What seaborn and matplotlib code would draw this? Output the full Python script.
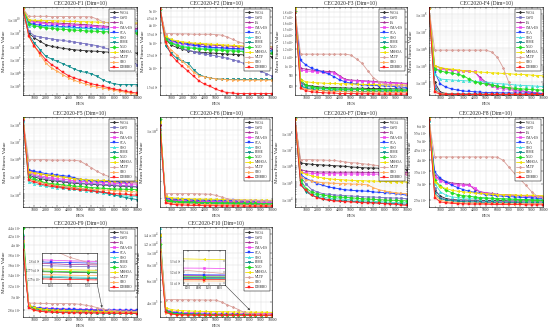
import numpy as np
import pandas as pd
import seaborn as sns
import matplotlib.pyplot as plt
from matplotlib.lines import Line2D
from matplotlib.ticker import FixedLocator, FixedFormatter, LogLocator, NullFormatter, MultipleLocator

algs = ['WOA', 'GWO', 'FA', 'CMA-ES', 'SCA', 'SHO', 'RIME', 'NGO', 'MSHOA', 'MLTP', 'SBO', 'DMBBO']
colors = ['#333333', '#7570c0', '#a02890', '#ee44ee', '#1f3fff', '#3fe0d8', '#0a8a8a',
          '#22dd22', '#f0e000', '#d9a09a', '#ffaa55', '#ff2020']
markers = ['P', 'o', '*', 'X', 's', '^', 'v', 'D', '<', 'P', '>', 's']
fes = list(range(0, 10001, 500))

# rows follow the order of algs
f1_vals = [
    [6.0e10, 8.9e8, 3.8e8, 2.1e8, 1.2e8, 8.9e7, 7.5e7, 6.3e7, 5.6e7, 5.0e7, 4.5e7, 4.2e7, 4.0e7, 3.8e7, 3.5e7, 3.3e7, 3.3e7, 3.2e7, 3.2e7, 3.0e7, 2.8e7],
    [5.5e10, 1.2e9, 5.6e8, 4.5e8, 3.8e8, 3.2e8, 2.8e8, 2.5e8, 2.1e8, 1.9e8, 1.6e8, 1.4e8, 1.2e8, 1.0e8, 7.5e7, 5.6e7, 3.8e7, 2.4e7, 1.4e7, 7.5e6, 3.8e6],
    [5.8e10, 7.9e9, 6.7e9, 6.0e9, 5.6e9, 5.3e9, 5.0e9, 4.7e9, 4.5e9, 4.2e9, 4.0e9, 3.8e9, 3.5e9, 3.2e9, 3.0e9, 2.8e9, 2.6e9, 2.4e9, 2.3e9, 2.1e9, 2.0e9],
    [6.2e10, 6.7e9, 5.6e9, 5.0e9, 4.5e9, 4.2e9, 4.0e9, 3.8e9, 3.5e9, 3.3e9, 3.2e9, 3.0e9, 2.8e9, 2.7e9, 2.4e9, 2.2e9, 2.0e9, 1.9e9, 1.8e9, 1.7e9, 1.6e9],
    [6.5e10, 5.0e9, 4.0e9, 3.5e9, 3.2e9, 3.0e9, 2.8e9, 2.7e9, 2.5e9, 2.4e9, 2.2e9, 2.1e9, 2.0e9, 1.9e9, 1.8e9, 1.7e9, 1.6e9, 1.5e9, 1.4e9, 1.3e9, 1.26e9],
    [5.2e10, 3.2e9, 2.8e9, 2.8e9, 2.8e9, 2.7e9, 2.5e9, 2.4e9, 2.2e9, 2.1e9, 2.0e9, 1.9e9, 1.8e9, 1.8e9, 1.7e9, 1.7e9, 1.6e9, 1.6e9, 1.5e9, 1.5e9, 1.4e9],
    [5.7e10, 6.7e8, 1.6e8, 5.0e7, 1.6e7, 1.0e7, 6.7e6, 4.5e6, 2.8e6, 1.8e6, 1.2e6, 1.0e6, 7.9e5, 5.0e5, 2.8e5, 1.8e5, 1.4e5, 1.2e5, 1.2e5, 1.2e5, 1.2e5],
    [6.8e10, 4.5e9, 3.2e9, 2.7e9, 2.2e9, 2.0e9, 1.8e9, 1.7e9, 1.6e9, 1.5e9, 1.4e9, 1.3e9, 1.26e9, 1.2e9, 1.12e9, 1.12e9, 1.06e9, 1.0e9, 1.0e9, 9.4e8, 8.9e8],
    [6.3e10, 8.9e9, 7.9e9, 7.9e9, 7.5e9, 7.5e9, 7.1e9, 7.1e9, 6.7e9, 6.7e9, 6.3e9, 6.3e9, 6.0e9, 6.0e9, 5.6e9, 5.6e9, 5.3e9, 5.3e9, 5.0e9, 5.0e9, 5.0e9],
    [6.0e10, 1.6e10, 1.6e10, 1.6e10, 1.6e10, 1.55e10, 1.55e10, 1.55e10, 1.55e10, 1.5e10, 1.5e10, 1.5e10, 1.45e10, 1.0e10, 6.3e9, 5.0e9, 4.5e9, 4.5e9, 4.2e9, 4.2e9, 4.0e9],
    [6.0e10, 5.0e8, 8.9e7, 2.1e7, 5.0e6, 2.1e6, 1.2e6, 6.7e5, 3.8e5, 2.5e5, 1.8e5, 1.33e5, 1.0e5, 7.9e4, 6.7e4, 5.6e4, 4.5e4, 3.8e4, 3.2e4, 2.7e4, 2.1e4],
    [6.0e10, 5.6e8, 8.9e7, 2.8e7, 8.9e6, 3.8e6, 2.1e6, 1.0e6, 5.6e5, 3.8e5, 2.8e5, 2.0e5, 1.4e5, 1.12e5, 8.9e4, 7.1e4, 5.6e4, 4.7e4, 3.8e4, 3.2e4, 2.8e4],
]

f2_vals = [
    [5150, 3155, 2887, 2780, 2700, 2640, 2600, 2575, 2560, 2545, 2532, 2520, 2500, 2490, 2480, 2467, 2455, 2440, 2430, 2415, 2403],
    [5120, 3205, 3041, 2887, 2740, 2670, 2600, 2532, 2500, 2467, 2430, 2380, 2340, 2280, 2226, 2150, 2055, 1980, 1900, 1830, 1755],
    [5180, 3250, 3090, 3041, 2995, 2964, 2930, 2915, 2900, 2887, 2873, 2860, 2845, 2830, 2812, 2800, 2780, 2770, 2755, 2740, 2730],
    [5200, 3250, 3060, 2995, 2950, 2900, 2873, 2845, 2812, 2800, 2780, 2770, 2755, 2740, 2730, 2715, 2700, 2685, 2670, 2655, 2640],
    [5160, 3290, 3122, 3041, 2964, 2915, 2873, 2845, 2812, 2780, 2770, 2755, 2740, 2730, 2715, 2700, 2685, 2670, 2670, 2655, 2640],
    [5140, 3205, 2995, 2915, 2860, 2812, 2780, 2755, 2740, 2730, 2715, 2700, 2685, 2670, 2670, 2655, 2655, 2640, 2640, 2630, 2630],
    [5130, 2850, 2532, 2340, 2226, 2170, 1950, 1802, 1738, 1700, 1683, 1675, 1667, 1667, 1667, 1667, 1667, 1667, 1667, 1667, 1667],
    [5170, 3155, 2964, 2873, 2812, 2770, 2740, 2715, 2700, 2685, 2670, 2655, 2640, 2630, 2615, 2600, 2585, 2575, 2560, 2545, 2532],
    [5190, 3320, 3155, 3090, 3041, 3010, 2980, 2964, 2950, 2930, 2915, 2900, 2887, 2873, 2860, 2845, 2845, 2830, 2830, 2812, 2812],
    [5180, 3467, 3467, 3450, 3450, 3450, 3430, 3430, 3430, 3430, 3415, 3380, 3290, 3155, 3041, 2964, 2887, 2860, 2830, 2812, 2800],
    [5150, 2964, 2670, 2467, 2226, 2055, 1870, 1770, 1738, 1710, 1683, 1675, 1660, 1655, 1650, 1650, 1650, 1650, 1650, 1650, 1650],
    [5150, 3041, 2467, 2226, 2055, 1900, 1755, 1625, 1541, 1490, 1425, 1380, 1351, 1340, 1331, 1331, 1331, 1331, 1331, 1331, 1331],
]

f3_vals = [
    [1830, 829, 808, 800, 794, 790, 787, 787, 784, 784, 781, 781, 781, 779, 779, 779, 776, 776, 776, 774, 774],
    [1800, 823, 800, 787, 781, 779, 776, 774, 774, 772, 772, 772, 769, 769, 769, 765, 765, 765, 765, 765, 765],
    [1800, 970, 963, 952, 945, 941, 938, 934, 893, 861, 854, 851, 848, 845, 842, 838, 835, 832, 829, 826, 823],
    [1800, 952, 945, 938, 934, 930, 927, 923, 885, 854, 848, 845, 842, 838, 835, 832, 829, 826, 823, 820, 817],
    [1800, 1058, 1005, 970, 952, 934, 912, 885, 854, 838, 823, 817, 811, 808, 805, 803, 800, 797, 794, 790, 787],
    [1800, 808, 787, 779, 776, 774, 772, 772, 772, 769, 769, 769, 769, 765, 765, 765, 765, 765, 765, 765, 765],
    [1800, 800, 779, 772, 765, 762, 760, 760, 757, 757, 757, 754, 754, 754, 754, 754, 751, 751, 751, 751, 751],
    [1815, 854, 808, 794, 787, 781, 779, 776, 774, 774, 772, 772, 772, 769, 769, 769, 769, 765, 765, 765, 765],
    [1880, 854, 838, 832, 829, 826, 823, 823, 820, 820, 817, 817, 814, 814, 814, 811, 811, 811, 808, 808, 808],
    [1830, 1134, 1134, 1134, 1134, 1134, 1134, 1134, 1134, 1134, 1122, 1075, 1024, 945, 877, 838, 817, 808, 805, 803, 800],
    [1800, 787, 772, 765, 762, 760, 757, 754, 754, 751, 751, 751, 749, 749, 749, 749, 746, 746, 746, 746, 746],
    [1780, 779, 760, 751, 746, 744, 741, 741, 737, 737, 737, 735, 735, 735, 735, 732, 732, 732, 732, 732, 732],
]

f4_vals = [
    [2.3e8, 1.0e4, 2650, 2200, 2100, 2100, 2050, 2050, 2030, 2030, 2030, 2000, 2000, 2000, 2000, 2000, 1980, 1980, 1980, 1980, 1980],
    [2.3e8, 6400, 2300, 2100, 2050, 2030, 2000, 2000, 2000, 1980, 1980, 1980, 1970, 1970, 1970, 1970, 1960, 1960, 1960, 1960, 1960],
    [2.3e8, 9.1e4, 7.3e4, 5.9e4, 5.4e4, 4.9e4, 4.7e4, 4.5e4, 4.0e4, 1.94e4, 1.0e4, 7000, 5900, 5100, 4500, 3800, 3300, 2900, 2650, 2400, 2200],
    [2.3e8, 5.9e4, 5.6e4, 5.4e4, 5.1e4, 4.9e4, 4.7e4, 4.5e4, 4.3e4, 1.56e4, 8000, 5900, 4800, 4300, 3800, 3300, 2900, 2650, 2400, 2300, 2200],
    [2.3e8, 3.8e4, 8000, 5100, 4100, 3500, 3100, 2900, 2800, 2650, 2500, 2500, 2450, 2400, 2400, 2350, 2300, 2300, 2250, 2200, 2200],
    [2.3e8, 3.0e4, 1.56e4, 1.45e4, 1.36e4, 1.3e4, 1.25e4, 1.2e4, 1.15e4, 1.1e4, 1.0e4, 9200, 8400, 8000, 7700, 7000, 6700, 6400, 6200, 5900, 5700],
    [2.3e8, 3800, 2100, 2000, 1980, 1970, 1970, 1960, 1960, 1960, 1950, 1950, 1950, 1950, 1950, 1950, 1950, 1950, 1950, 1950, 1950],
    [2.3e8, 5.9e4, 4.7e4, 3.8e4, 3.5e4, 3.0e4, 2.4e4, 1.56e4, 1.1e4, 9000, 8000, 7000, 5900, 5400, 4800, 4500, 4100, 4000, 3800, 3600, 3500],
    [2.3e8, 9.1e4, 7.3e4, 6.4e4, 5.9e4, 5.4e4, 4.9e4, 4.5e4, 4.1e4, 4.0e4, 3.8e4, 3.6e4, 3.5e4, 3.3e4, 3.2e4, 3.0e4, 2.9e4, 2.8e4, 2.65e4, 2.5e4, 2.4e4],
    [2.3e8, 7.7e5, 7.7e5, 7.7e5, 7.7e5, 7.7e5, 7.7e5, 7.7e5, 7.7e5, 7.7e5, 7.7e5, 6.0e5, 2.9e5, 7.3e4, 1.0e4, 2200, 2030, 2000, 1960, 1960, 1960],
    [2.3e8, 3300, 2200, 2050, 2000, 1980, 1970, 1960, 1960, 1960, 1950, 1950, 1950, 1950, 1950, 1950, 1950, 1950, 1950, 1950, 1950],
    [2.3e8, 2650, 2000, 1960, 1950, 1940, 1940, 1940, 1930, 1930, 1930, 1930, 1930, 1930, 1930, 1930, 1930, 1930, 1930, 1930, 1930],
]

f5_vals = [
    [2.0e8, 1.19e5, 9.6e4, 7.7e4, 6.8e4, 5.9e4, 5.5e4, 5.0e4, 4.6e4, 4.2e4, 4.0e4, 3.85e4, 3.7e4, 3.5e4, 3.4e4, 3.2e4, 3.1e4, 2.9e4, 2.8e4, 2.7e4, 2.6e4],
    [1.5e8, 1.48e5, 1.14e5, 9.6e4, 8.0e4, 7.1e4, 6.2e4, 5.7e4, 5.2e4, 4.8e4, 4.4e4, 4.2e4, 4.0e4, 3.85e4, 3.7e4, 3.5e4, 3.4e4, 3.2e4, 3.1e4, 2.9e4, 2.8e4],
    [1.7e8, 2.3e5, 1.76e5, 1.48e5, 1.24e5, 1.14e5, 1.04e5, 9.6e4, 8.8e4, 7.7e4, 7.1e4, 6.5e4, 5.9e4, 5.7e4, 5.5e4, 5.2e4, 5.0e4, 4.8e4, 4.8e4, 4.6e4, 4.4e4],
    [1.9e8, 1.76e5, 1.36e5, 1.14e5, 9.6e4, 8.4e4, 7.7e4, 7.1e4, 6.5e4, 5.9e4, 5.5e4, 5.2e4, 5.0e4, 4.8e4, 4.6e4, 4.4e4, 4.2e4, 4.0e4, 4.0e4, 3.85e4, 3.7e4],
    [1.6e8, 2.5e5, 2.0e5, 1.76e5, 1.48e5, 1.36e5, 1.24e5, 1.14e5, 1.04e5, 8.8e4, 6.8e4, 6.2e4, 5.9e4, 5.7e4, 5.7e4, 5.5e4, 5.5e4, 5.2e4, 5.2e4, 5.0e4, 5.0e4],
    [1.4e8, 5.0e4, 4.0e4, 3.4e4, 2.8e4, 2.6e4, 2.4e4, 2.2e4, 2.1e4, 1.9e4, 1.77e4, 1.6e4, 1.48e4, 1.36e4, 1.19e4, 1.04e4, 9200, 8400, 8000, 7700, 7700],
    [1.7e8, 7.7e4, 6.2e4, 5.0e4, 4.0e4, 3.4e4, 2.9e4, 2.7e4, 2.5e4, 2.3e4, 2.1e4, 1.9e4, 1.7e4, 1.48e4, 1.3e4, 1.09e4, 9200, 7700, 6500, 5700, 5000],
    [2.3e8, 9.6e4, 7.7e4, 5.7e4, 4.4e4, 4.0e4, 3.7e4, 3.4e4, 3.2e4, 2.9e4, 2.8e4, 2.6e4, 2.4e4, 2.3e4, 2.2e4, 2.1e4, 2.0e4, 2.0e4, 1.9e4, 1.9e4, 1.84e4],
    [2.2e8, 1.84e5, 1.6e5, 1.48e5, 1.3e5, 1.19e5, 1.04e5, 9.6e4, 8.4e4, 7.7e4, 7.1e4, 6.8e4, 6.5e4, 6.2e4, 6.2e4, 5.9e4, 5.9e4, 5.7e4, 5.7e4, 5.7e4, 5.7e4],
    [1.8e8, 9.1e5, 9.1e5, 9.1e5, 9.1e5, 8.7e5, 8.7e5, 8.7e5, 8.5e5, 8.5e5, 7.7e5, 5.0e5, 3.2e5, 2.0e5, 1.36e5, 1.04e5, 7.7e4, 6.8e4, 5.9e4, 5.0e4, 4.4e4],
    [1.8e8, 7.7e4, 5.7e4, 4.8e4, 4.0e4, 3.5e4, 3.1e4, 2.8e4, 2.6e4, 2.4e4, 2.2e4, 2.0e4, 1.9e4, 1.84e4, 1.77e4, 1.7e4, 1.6e4, 1.55e4, 1.48e4, 1.42e4, 1.36e4],
    [1.6e8, 6.2e4, 5.0e4, 4.0e4, 3.2e4, 2.8e4, 2.6e4, 2.4e4, 2.1e4, 1.9e4, 1.77e4, 1.7e4, 1.55e4, 1.42e4, 1.3e4, 1.19e4, 1.09e4, 1.04e4, 1.0e4, 9200, 8800],
]

f6_vals = [
    [11300, 1910, 1870, 1850, 1840, 1830, 1820, 1820, 1810, 1810, 1800, 1800, 1790, 1790, 1780, 1780, 1770, 1770, 1760, 1760, 1760],
    [10400, 1900, 1860, 1830, 1820, 1810, 1800, 1790, 1790, 1780, 1780, 1770, 1770, 1760, 1760, 1750, 1750, 1740, 1740, 1730, 1730],
    [11700, 1950, 1920, 1900, 1890, 1880, 1870, 1860, 1850, 1850, 1840, 1840, 1830, 1830, 1820, 1820, 1810, 1810, 1800, 1800, 1800],
    [12700, 1930, 1900, 1880, 1870, 1860, 1850, 1840, 1830, 1830, 1820, 1820, 1810, 1810, 1800, 1800, 1790, 1790, 1780, 1780, 1780],
    [10800, 2000, 1950, 1930, 1920, 1910, 1900, 1900, 1890, 1890, 1880, 1880, 1870, 1870, 1860, 1860, 1860, 1850, 1850, 1850, 1850],
    [9100, 1880, 1830, 1800, 1790, 1780, 1770, 1760, 1760, 1750, 1750, 1740, 1740, 1730, 1730, 1720, 1720, 1720, 1710, 1710, 1710],
    [10000, 1850, 1810, 1780, 1770, 1760, 1750, 1740, 1740, 1730, 1730, 1720, 1720, 1710, 1710, 1700, 1700, 1690, 1690, 1680, 1680],
    [13200, 1880, 1840, 1820, 1810, 1800, 1790, 1780, 1780, 1770, 1770, 1760, 1760, 1750, 1750, 1740, 1740, 1740, 1730, 1730, 1730],
    [12200, 2060, 2000, 1970, 1950, 1950, 1940, 1940, 1930, 1930, 1920, 1920, 1910, 1910, 1900, 1900, 1890, 1890, 1880, 1880, 1880],
    [9600, 2200, 2200, 2200, 2200, 2200, 2200, 2190, 2180, 2170, 2110, 2030, 1950, 1910, 1880, 1880, 1870, 1870, 1860, 1860, 1850],
    [10200, 1800, 1760, 1740, 1730, 1720, 1710, 1710, 1700, 1700, 1690, 1690, 1690, 1680, 1680, 1680, 1670, 1670, 1670, 1670, 1670],
    [11000, 1760, 1710, 1690, 1680, 1670, 1660, 1660, 1650, 1650, 1650, 1640, 1640, 1640, 1640, 1630, 1630, 1630, 1630, 1630, 1630],
]

f7_vals = [
    [7.3e8, 1.49e6, 1.36e6, 1.23e6, 1.18e6, 1.12e6, 1.07e6, 1.02e6, 9.8e5, 9.3e5, 8.5e5, 8.1e5, 7.7e5, 7.4e5, 7.4e5, 7.1e5, 6.7e5, 6.4e5, 6.4e5, 6.1e5, 5.8e5],
    [6.8e8, 2.09e5, 7.5e4, 3.5e4, 2.55e4, 2.0e4, 1.84e4, 1.67e4, 1.6e4, 1.5e4, 1.45e4, 1.38e4, 1.32e4, 1.26e4, 1.26e4, 1.2e4, 1.15e4, 1.1e4, 1.1e4, 1.05e4, 1.0e4],
    [7.2e8, 5.8e5, 4.8e5, 4.4e5, 4.2e5, 4.2e5, 4.2e5, 4.1e5, 4.1e5, 4.1e5, 4.1e5, 4.1e5, 4.0e5, 4.0e5, 4.0e5, 4.0e5, 4.0e5, 4.0e5, 4.0e5, 4.0e5, 4.0e5],
    [7.5e8, 4.2e5, 3.66e5, 3.5e5, 3.33e5, 3.33e5, 3.3e5, 3.3e5, 3.3e5, 3.2e5, 3.2e5, 3.2e5, 3.2e5, 3.1e5, 3.1e5, 3.1e5, 3.1e5, 3.0e5, 3.0e5, 3.0e5, 3.0e5],
    [7.4e8, 3.0e5, 1.65e5, 1.2e5, 8.2e4, 6.5e4, 5.1e4, 4.5e4, 3.9e4, 3.5e4, 3.2e4, 3.07e4, 2.93e4, 2.8e4, 2.55e4, 2.43e4, 2.32e4, 2.2e4, 2.0e4, 1.84e4, 1.6e4],
    [6.9e8, 1.04e5, 3.2e4, 2.0e4, 1.6e4, 1.26e4, 1.1e4, 1.0e4, 9500, 9100, 8700, 7900, 7600, 7300, 6900, 6600, 6300, 6000, 5800, 5800, 5500],
    [7.1e8, 8.2e4, 2.55e4, 1.6e4, 1.26e4, 1.0e4, 8700, 7900, 7600, 7300, 6900, 6600, 6300, 6000, 5800, 5500, 5200, 5000, 5000, 4700, 4500],
    [7.7e8, 1.31e5, 4.1e4, 2.55e4, 2.0e4, 1.67e4, 1.45e4, 1.32e4, 1.26e4, 1.2e4, 1.15e4, 1.05e4, 1.0e4, 9500, 9100, 8700, 8300, 7900, 7900, 7600, 7300],
    [7.6e8, 4.2e5, 3.0e5, 2.5e5, 2.09e5, 1.82e5, 1.65e5, 1.5e5, 1.44e5, 1.37e5, 1.31e5, 1.25e5, 1.25e5, 1.2e5, 1.2e5, 1.14e5, 1.14e5, 1.09e5, 1.09e5, 1.04e5, 1.04e5],
    [7.0e8, 2.38e6, 2.38e6, 2.38e6, 2.27e6, 2.27e6, 2.16e6, 2.16e6, 1.88e6, 1.71e6, 1.56e6, 1.49e6, 1.36e6, 1.23e6, 1.12e6, 1.02e6, 8.5e5, 6.7e5, 4.8e5, 4.0e5, 3.33e5],
    [7.0e8, 2.09e5, 1.44e5, 1.2e5, 1.04e5, 9.4e4, 9.0e4, 8.6e4, 8.2e4, 8.2e4, 7.8e4, 7.6e4, 7.5e4, 6.8e4, 4.7e4, 3.5e4, 2.93e4, 2.55e4, 2.32e4, 2.1e4, 2.0e4],
    [7.2e8, 6.5e4, 3.2e4, 1.6e4, 1.15e4, 9100, 7900, 7300, 6900, 6600, 6300, 6000, 5800, 5500, 5500, 5200, 5000, 4700, 4500, 4100, 3900],
]

f8_vals = [
    [6400, 2790, 2600, 2530, 2500, 2490, 2490, 2480, 2480, 2480, 2470, 2470, 2470, 2470, 2460, 2460, 2460, 2460, 2460, 2460, 2460],
    [6500, 2850, 2560, 2500, 2480, 2470, 2460, 2460, 2450, 2450, 2450, 2440, 2440, 2440, 2440, 2430, 2430, 2430, 2430, 2430, 2430],
    [6400, 3330, 3170, 3090, 3040, 3020, 3000, 2990, 2810, 2740, 2710, 2690, 2660, 2650, 2640, 2630, 2620, 2610, 2600, 2590, 2580],
    [6500, 3270, 3110, 3040, 2990, 2970, 2960, 2950, 2880, 2730, 2690, 2660, 2650, 2640, 2630, 2620, 2610, 2600, 2590, 2580, 2560],
    [6300, 3460, 3210, 3080, 2960, 2880, 2810, 2760, 2720, 2690, 2650, 2630, 2610, 2600, 2590, 2580, 2570, 2560, 2550, 2540, 2530],
    [6300, 3020, 2740, 2630, 2580, 2560, 2550, 2540, 2540, 2530, 2530, 2520, 2520, 2520, 2510, 2510, 2510, 2500, 2500, 2500, 2500],
    [6300, 2690, 2530, 2480, 2460, 2450, 2440, 2430, 2430, 2420, 2420, 2420, 2410, 2410, 2410, 2410, 2410, 2400, 2400, 2400, 2400],
    [6600, 3140, 2930, 2790, 2710, 2650, 2620, 2600, 2580, 2560, 2550, 2540, 2530, 2520, 2520, 2510, 2500, 2500, 2490, 2480, 2480],
    [6500, 3080, 2900, 2850, 2790, 2760, 2740, 2720, 2700, 2690, 2680, 2660, 2650, 2650, 2640, 2640, 2630, 2630, 2630, 2620, 2620],
    [6400, 4130, 4130, 4130, 4130, 4130, 4130, 4130, 4130, 4130, 4130, 4130, 4120, 3970, 3670, 3400, 3170, 2960, 2740, 2600, 2560],
    [6500, 2630, 2480, 2440, 2420, 2410, 2400, 2400, 2400, 2390, 2390, 2390, 2390, 2390, 2380, 2380, 2380, 2380, 2380, 2380, 2380],
    [6400, 2560, 2430, 2410, 2390, 2380, 2380, 2370, 2370, 2370, 2370, 2360, 2360, 2360, 2360, 2360, 2360, 2350, 2350, 2350, 2350],
]

f9_vals = [
    [4000, 2855, 2820, 2800, 2790, 2784, 2780, 2778, 2776, 2774, 2772, 2771, 2770, 2769, 2768, 2767, 2766, 2765, 2764, 2763, 2762],
    [3980, 2850, 2820, 2810, 2805, 2800, 2797, 2795, 2793, 2791, 2789, 2788, 2787, 2786, 2785, 2784, 2783, 2782, 2781, 2780, 2780],
    [4200, 2865, 2830, 2820, 2813, 2808, 2805, 2802, 2800, 2798, 2796, 2795, 2793, 2792, 2790, 2789, 2788, 2787, 2786, 2785, 2785],
    [4150, 2870, 2840, 2830, 2825, 2820, 2818, 2815, 2812, 2810, 2808, 2806, 2804, 2802, 2800, 2799, 2798, 2797, 2796, 2795, 2795],
    [4050, 2860, 2835, 2825, 2818, 2813, 2810, 2808, 2806, 2804, 2802, 2800, 2798, 2796, 2795, 2794, 2793, 2792, 2791, 2790, 2790],
    [4250, 2850, 2810, 2790, 2780, 2774, 2770, 2767, 2764, 2762, 2760, 2759, 2758, 2757, 2755, 2754, 2753, 2752, 2751, 2750, 2750],
    [3950, 2845, 2805, 2785, 2775, 2770, 2766, 2763, 2761, 2759, 2757, 2756, 2755, 2754, 2752, 2751, 2750, 2749, 2748, 2747, 2747],
    [4400, 2860, 2825, 2805, 2795, 2788, 2783, 2780, 2778, 2776, 2774, 2773, 2772, 2771, 2770, 2769, 2768, 2767, 2766, 2765, 2765],
    [4100, 2875, 2835, 2815, 2805, 2798, 2793, 2790, 2787, 2784, 2782, 2780, 2778, 2777, 2775, 2774, 2773, 2772, 2771, 2770, 2770],
    [4100, 2904, 2904, 2900, 2900, 2898, 2898, 2896, 2896, 2894, 2885, 2870, 2855, 2833, 2810, 2795, 2785, 2780, 2780, 2775, 2775],
    [3920, 2840, 2800, 2785, 2778, 2773, 2770, 2768, 2766, 2765, 2764, 2763, 2762, 2761, 2760, 2759, 2758, 2757, 2756, 2755, 2755],
    [3900, 2830, 2790, 2775, 2767, 2762, 2758, 2756, 2754, 2753, 2752, 2751, 2750, 2749, 2748, 2747, 2746, 2745, 2744, 2743, 2742],
]

f10_vals = [
    [11400, 3380, 3260, 3220, 3190, 3180, 3170, 3165, 3160, 3157, 3155, 3153, 3151, 3150, 3149, 3148, 3147, 3146, 3145, 3144, 3143],
    [11100, 3360, 3250, 3210, 3185, 3175, 3168, 3163, 3160, 3158, 3156, 3155, 3154, 3153, 3152, 3151, 3150, 3150, 3149, 3148, 3147],
    [14000, 3420, 3300, 3250, 3220, 3210, 3200, 3190, 3185, 3180, 3178, 3175, 3172, 3170, 3168, 3167, 3166, 3165, 3164, 3163, 3162],
    [12500, 3500, 3380, 3330, 3300, 3290, 3280, 3270, 3260, 3260, 3250, 3250, 3245, 3240, 3240, 3235, 3235, 3234, 3230, 3230, 3230],
    [13000, 3450, 3320, 3270, 3240, 3230, 3220, 3210, 3200, 3195, 3190, 3185, 3180, 3180, 3178, 3176, 3175, 3173, 3172, 3170, 3170],
    [15800, 3350, 3240, 3200, 3180, 3170, 3160, 3155, 3150, 3148, 3146, 3145, 3144, 3143, 3142, 3141, 3140, 3140, 3139, 3138, 3137],
    [13300, 3330, 3230, 3190, 3170, 3160, 3155, 3150, 3147, 3145, 3143, 3142, 3141, 3140, 3139, 3138, 3137, 3136, 3135, 3134, 3133],
    [11800, 3400, 3280, 3230, 3200, 3190, 3180, 3175, 3170, 3168, 3165, 3163, 3161, 3160, 3158, 3157, 3156, 3155, 3154, 3153, 3152],
    [13800, 3600, 3480, 3430, 3410, 3390, 3380, 3370, 3360, 3350, 3350, 3340, 3340, 3330, 3330, 3320, 3320, 3315, 3310, 3310, 3300],
    [12100, 4180, 4180, 4180, 4170, 4170, 4160, 4160, 4150, 4150, 4140, 4000, 3800, 3640, 3480, 3300, 3220, 3200, 3180, 3180, 3160],
    [10600, 3280, 3190, 3160, 3145, 3140, 3135, 3130, 3128, 3126, 3124, 3122, 3121, 3120, 3119, 3118, 3117, 3117, 3116, 3115, 3115],
    [10100, 3300, 3200, 3170, 3155, 3150, 3145, 3140, 3138, 3136, 3135, 3134, 3133, 3132, 3131, 3130, 3130, 3130, 3129, 3128, 3127],
]

titles = ['CEC2020-F%d (Dim=10)' % i for i in range(1, 11)]
all_vals = [f1_vals, f2_vals, f3_vals, f4_vals, f5_vals, f6_vals, f7_vals, f8_vals, f9_vals, f10_vals]
ylims = [(2e4, 8e10), (1300, 5300), (725, 1900), (1800, 2.6e8), (1900, 2.4e8),
         (1600, 13700), (3100, 9.4e8), (2290, 6610), (2690, 4420), (3030, 16050)]
yticks = [
    [1e5, 1e6, 1e7, 1e8, 1e9, 1e10],
    [1500, 2000, 2500, 3000, 3500, 4000, 4500, 5000],
    [800, 900, 1000, 1100, 1200, 1300, 1400, 1500, 1600, 1700, 1800],
    [1e4, 1e5, 1e6, 1e7, 1e8],
    [1e4, 1e5, 1e6, 1e7, 1e8],
    [1e4],
    [1e4, 1e5, 1e6, 1e7, 1e8],
    [2500, 3000, 3500, 4000, 4500, 5000, 5500, 6000],
    [2800, 3000, 3200, 3400, 3600, 3800, 4000, 4200, 4400],
    [4000, 6000, 8000, 10000, 12000, 14000],
]
ytick_size = [2.8, 2.2, 2.1, 2.8, 2.8, 2.8, 2.8, 2.5, 2.5, 2.8]

sns.set_theme(style='white')
plt.rcParams['font.family'] = ['Liberation Serif', 'DejaVu Serif']
plt.rcParams['mathtext.fontset'] = 'stix'


def sci(v):
    if v < 1000:
        return '%g' % v
    e = int(np.floor(np.log10(v) + 1e-9))
    return r'$%g\times10^{%d}$' % (round(v / 10 ** e, 3), e)


def draw(ax, vals, lw=0.6, ms=1.8):
    df = pd.DataFrame({'FES': fes * len(algs),
                       'val': np.concatenate([np.asarray(v, float) for v in vals]),
                       'alg': np.repeat(algs, len(fes))})
    sns.lineplot(data=df, x='FES', y='val', hue='alg', style='alg',
                 hue_order=algs, style_order=algs,
                 palette=dict(zip(algs, colors)), markers=dict(zip(algs, markers)),
                 dashes=False, linewidth=lw, markersize=ms, markeredgewidth=0.35,
                 estimator=None, legend=False, ax=ax)
    for line in ax.lines:
        line.set_markeredgecolor(line.get_color())


def frame(ax, fs=2.8):
    for s in ax.spines.values():
        s.set_linewidth(0.4)
        s.set_color('black')
    ax.tick_params(which='both', direction='in', width=0.3, labelsize=fs, pad=1,
                   top=True, right=True, bottom=True, left=True)
    ax.tick_params(which='major', length=1.3)
    ax.tick_params(which='minor', length=0.7)
    ax.set_axisbelow(True)
    ax.grid(True, which='major', color='#d8d8d8', lw=0.3)
    ax.grid(True, which='minor', color='#ececec', lw=0.25)
    ax.set_xlabel('')
    ax.set_ylabel('')


fig = plt.figure(figsize=(5.5, 3.31), dpi=100)
col_l = [23, 160, 295, 429]
col_w = [114, 112, 112, 114]
rows = [(7, 95), (117, 207), (227, 317)]

handles = [Line2D([], [], color=c, marker=m, lw=0.6, ms=1.8, mew=0.35, mec=c)
           for c, m in zip(colors, markers)]

axes = []
for i in range(10):
    r, c = divmod(i, 4)
    t, b = rows[r]
    ax = fig.add_axes([col_l[c] / 550, 1 - b / 331, col_w[c] / 550, (b - t) / 331])
    ax.set_yscale('log')
    draw(ax, all_vals[i])
    frame(ax)
    ax.tick_params(axis='y', labelsize=ytick_size[i])
    ax.set_xlim(0, 10000)
    ax.set_ylim(*ylims[i])
    ax.xaxis.set_major_locator(FixedLocator(list(range(1000, 10001, 1000))))
    ax.xaxis.set_minor_locator(MultipleLocator(500))
    ax.yaxis.set_major_locator(FixedLocator(yticks[i]))
    ax.yaxis.set_major_formatter(FixedFormatter([sci(v) for v in yticks[i]]))
    ax.yaxis.set_minor_locator(LogLocator(base=10, subs=np.arange(2, 10)))
    ax.yaxis.set_minor_formatter(NullFormatter())
    ax.set_title(titles[i], fontsize=4, pad=1.5)
    ax.set_xlabel('FES', fontsize=3.8, labelpad=1)
    ax.set_ylabel('Mean Fitness Value', fontsize=3.8, labelpad=1)
    leg = ax.legend(handles, algs, loc='upper right', fontsize=2.5, frameon=True,
                    fancybox=False, framealpha=1, edgecolor='black', borderpad=0.35,
                    labelspacing=0.28, handlelength=2.4, handletextpad=0.6,
                    borderaxespad=0.7)
    leg.get_frame().set_linewidth(0.35)
    axes.append(ax)


def inset(ax, vals, rect, xlim, ylim, xt, yt, xy, xytext):
    ax.annotate('', xy=xy, xycoords='data', xytext=xytext, textcoords='figure fraction',
                arrowprops=dict(arrowstyle='-|>', color='0.25', lw=0.4,
                                mutation_scale=3, shrinkA=0, shrinkB=0))
    ins = fig.add_axes(rect)
    ins.set_facecolor('white')
    draw(ins, vals, lw=0.5, ms=1.6)
    frame(ins, fs=2.2)
    ins.set_xlim(*xlim)
    ins.set_ylim(*ylim)
    ins.xaxis.set_major_locator(FixedLocator(xt))
    ins.yaxis.set_major_locator(FixedLocator(yt))
    ins.yaxis.set_major_formatter(FixedFormatter([sci(v) for v in yt]))
    ins.minorticks_off()


inset(axes[8], f9_vals, [42 / 550, 1 - 283 / 331, 55 / 550, 30 / 331],
      (6270, 7730), (2738, 2822), [6500, 7000, 7500], [2750, 2775, 2800],
      (6930, 2830), (97 / 550, 1 - 283 / 331))
inset(axes[9], f10_vals, [183 / 550, 1 - 285 / 331, 42 / 550, 35 / 331],
      (8100, 8900), (3080, 3400), [8200, 8400, 8600, 8800], [3100, 3200, 3300],
      (8040, 3430), (225 / 550, 1 - 285 / 331))

fig.savefig('out.png', dpi=100)
